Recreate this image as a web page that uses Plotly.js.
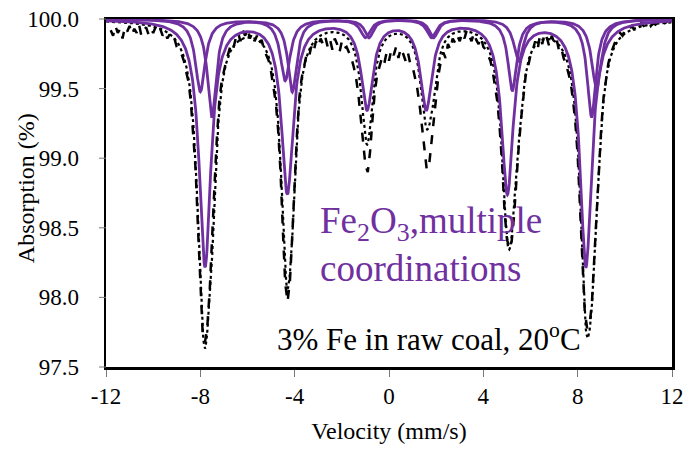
<!DOCTYPE html>
<html>
<head>
<meta charset="utf-8">
<script src="https://cdn.plot.ly/plotly-3.0.1.min.js"></script>
<style>
  html, body { margin: 0; padding: 0; background: #ffffff; }
  #chart { width: 683px; height: 450px; }
</style>
</head>
<body>
<div id="chart"></div>
<script>
// Measured spectrum: channel velocities start at -11.8 mm/s and are 0.1 mm/s apart
const dataStart = -11.8;
const dataStep = 0.1;
const absorption = [
  99.92, 99.88, 99.95, 99.90, 99.93, 99.86, 99.94, 99.91, 99.95, 99.89,
  99.93, 99.90, 99.96, 99.88, 99.92, 99.94, 99.89, 99.93, 99.90, 99.94,
  99.90, 99.93, 99.88, 99.91, 99.86, 99.89, 99.84, 99.86, 99.80, 99.78,
  99.75, 99.70, 99.62, 99.55, 99.40, 99.18, 98.92, 98.50, 98.08, 97.74,
  97.68, 97.80, 98.06, 98.38, 98.80, 99.14, 99.40, 99.55, 99.63, 99.70,
  99.76, 99.82, 99.79, 99.86, 99.90, 99.84, 99.92, 99.88, 99.93, 99.86,
  99.90, 99.84, 99.88, 99.82, 99.85, 99.78, 99.74, 99.70, 99.62, 99.52,
  99.40, 99.20, 98.90, 98.48, 98.10, 97.97, 98.12, 98.45, 98.85, 99.18,
  99.44, 99.58, 99.66, 99.74, 99.72, 99.80, 99.76, 99.84, 99.80, 99.86,
  99.82, 99.87, 99.80, 99.85, 99.78, 99.86, 99.82, 99.76, 99.84, 99.79,
  99.80, 99.76, 99.72, 99.66, 99.58, 99.46, 99.30, 99.10, 98.95, 98.90,
  99.05, 99.28, 99.48, 99.60, 99.66, 99.72, 99.68, 99.76, 99.70, 99.78,
  99.74, 99.80, 99.72, 99.79, 99.75, 99.70, 99.76, 99.68, 99.66, 99.58,
  99.50, 99.38, 99.22, 99.05, 98.92, 98.95, 99.12, 99.30, 99.46, 99.60,
  99.70, 99.76, 99.72, 99.82, 99.78, 99.86, 99.83, 99.88, 99.84, 99.90,
  99.86, 99.92, 99.88, 99.84, 99.90, 99.85, 99.82, 99.87, 99.80, 99.78,
  99.74, 99.70, 99.62, 99.52, 99.40, 99.20, 98.95, 98.62, 98.42, 98.35,
  98.40, 98.58, 98.85, 99.08, 99.28, 99.45, 99.60, 99.66, 99.74, 99.78,
  99.84, 99.78, 99.88, 99.82, 99.90, 99.86, 99.80, 99.88, 99.83, 99.86,
  99.78, 99.80, 99.72, 99.68, 99.62, 99.55, 99.42, 99.26, 99.02, 98.68,
  98.25, 97.90, 97.78, 97.80, 97.95, 98.26, 98.60, 98.92, 99.22, 99.44,
  99.58, 99.68, 99.75, 99.80, 99.84, 99.87, 99.90, 99.88, 99.92, 99.91,
  99.93, 99.95, 99.92, 99.96, 99.94, 99.97, 99.95, 99.96, 99.98, 99.95,
  99.97, 99.96, 99.98, 99.97, 99.99, 99.97, 99.98
];
const velocity = absorption.map((_, i) => +(dataStart + i * dataStep).toFixed(2));

// Fitted sextets: line positions (mm/s), line depths (% absorption), Lorentzian width (mm/s)
const sextetAPositions = [-7.80, -4.31, -0.93, 1.58, 5.02, 8.35];
const sextetADepths    = [1.77, 1.24, 0.63, 0.63, 1.24, 1.77];
const sextetAWidth     = 0.60;

const sextetBPositions = [-7.51, -4.10, -0.85, 1.89, 5.23, 8.59];
const sextetBDepths    = [0.70, 0.52, 0.13, 0.13, 0.51, 0.70];
const sextetBWidth     = 0.45;

const sextetCPositions = [-8.00, -4.40, -1.00, 1.80, 5.50, 8.80];
const sextetCDepths    = [0.52, 0.44, 0.13, 0.13, 0.30, 0.50];
const sextetCWidth     = 0.50;

// Axis ticks
const xTickValues = [-12, -8, -4, 0, 4, 8, 12];
const xTickLabels = ['-12', '-8', '-4', '0', '4', '8', '12'];
const yTickValues = [97.5, 98.0, 98.5, 99.0, 99.5, 100.0];
const yTickLabels = ['97.5', '98.0', '98.5', '99.0', '99.5', '100.0'];
const yRange = [97.5, 100];

const sextets = [
  { pos: sextetAPositions, depth: sextetADepths, width: sextetAWidth },
  { pos: sextetBPositions, depth: sextetBDepths, width: sextetBWidth },
  { pos: sextetCPositions, depth: sextetCDepths, width: sextetCWidth }
];

// Velocity grid on which the fitted curves are evaluated
const fitStart = -12, fitEnd = 12, fitStep = 0.02;
const fitVelocity = [];
for (let v = fitStart; v <= fitEnd + 1e-9; v += fitStep) fitVelocity.push(+v.toFixed(3));

function sextetDip(s, v) {
  let total = 0;
  for (let k = 0; k < s.pos.length; k++) {
    const u = 2 * (v - s.pos[k]) / s.width;
    total += s.depth[k] / (1 + u * u);
  }
  return total;
}

const sextetCurves = sextets.map(s => fitVelocity.map(v => 100 - sextetDip(s, v)));
const totalFit = fitVelocity.map(v => 100 - sextets.reduce((acc, s) => acc + sextetDip(s, v), 0));

const purple = '#7030A0';
const serif = 'Liberation Serif, Times New Roman, serif';
const plotWidthPx = 683 - 106 - 11;

const traces = [
  {
    x: velocity, y: absorption, type: 'scatter', mode: 'lines',
    line: { color: '#000000', width: 2.5, dash: 'dash' },
    hoverinfo: 'skip'
  },
  {
    x: fitVelocity, y: totalFit, type: 'scatter', mode: 'lines',
    line: { color: '#000000', width: 2.2, dash: 'dot' },
    hoverinfo: 'skip'
  }
].concat(sextetCurves.map(curve => ({
  x: fitVelocity, y: curve, type: 'scatter', mode: 'lines',
  line: { color: purple, width: 2.8 },
  hoverinfo: 'skip'
})));

const axisCommon = {
  showgrid: false, zeroline: false,
  showline: true, linecolor: '#000000', linewidth: 2.5, mirror: true,
  ticks: 'outside', ticklen: 7, tickwidth: 1, tickcolor: '#777777',
  ticklabeloverflow: 'allow',
  tickfont: { family: serif, size: 23, color: '#000000' }
};

// Short grey y tick marks; the axis' own ticks are kept long and transparent
// so that the labels sit further from the frame
const yTickMarks = yTickValues.map(v => ({
  type: 'line', xref: 'paper', yref: 'paper',
  x0: -7 / plotWidthPx, x1: 0,
  y0: (v - yRange[0]) / (yRange[1] - yRange[0]),
  y1: (v - yRange[0]) / (yRange[1] - yRange[0]),
  line: { color: '#777777', width: 1 }
}));

const layout = {
  width: 683, height: 450,
  margin: { l: 106, r: 11, t: 19, b: 83 },
  paper_bgcolor: '#ffffff', plot_bgcolor: '#ffffff',
  font: { family: serif, color: '#000000' },
  showlegend: false,
  xaxis: Object.assign({}, axisCommon, {
    range: [-12, 12],
    tickmode: 'array', tickvals: xTickValues, ticktext: xTickLabels,
    title: { text: 'Velocity (mm/s)', font: { family: serif, size: 24, color: '#000000' }, standoff: 14 }
  }),
  yaxis: Object.assign({}, axisCommon, {
    range: yRange,
    tickmode: 'array', tickvals: yTickValues, ticktext: yTickLabels,
    ticklen: 20, tickcolor: 'rgba(0,0,0,0)'
  }),
  shapes: yTickMarks,
  annotations: [
    {
      x: -0.1413, y: 0.514, xref: 'paper', yref: 'paper', xanchor: 'center', yanchor: 'middle',
      text: 'Absorption (%)', textangle: -90, showarrow: false,
      font: { family: serif, size: 24, color: '#000000' }
    },
    {
      x: -2.99, y: 98.53, xref: 'x', yref: 'y', xanchor: 'left', yanchor: 'middle',
      text: 'Fe<sub>2</sub>O<sub>3</sub>,multiple', showarrow: false,
      font: { family: serif, size: 37, color: purple }
    },
    {
      x: -2.99, y: 98.21, xref: 'x', yref: 'y', xanchor: 'left', yanchor: 'middle',
      text: 'coordinations', showarrow: false,
      font: { family: serif, size: 37, color: purple }
    },
    {
      x: -4.84, y: 97.71, xref: 'x', yref: 'y', xanchor: 'left', yanchor: 'middle',
      text: '3% Fe in raw coal, 20<sup>o</sup>C', showarrow: false,
      font: { family: serif, size: 31, color: '#000000' }
    }
  ]
};

Plotly.newPlot('chart', traces, layout, { displayModeBar: false, staticPlot: true });
</script>
</body>
</html>
